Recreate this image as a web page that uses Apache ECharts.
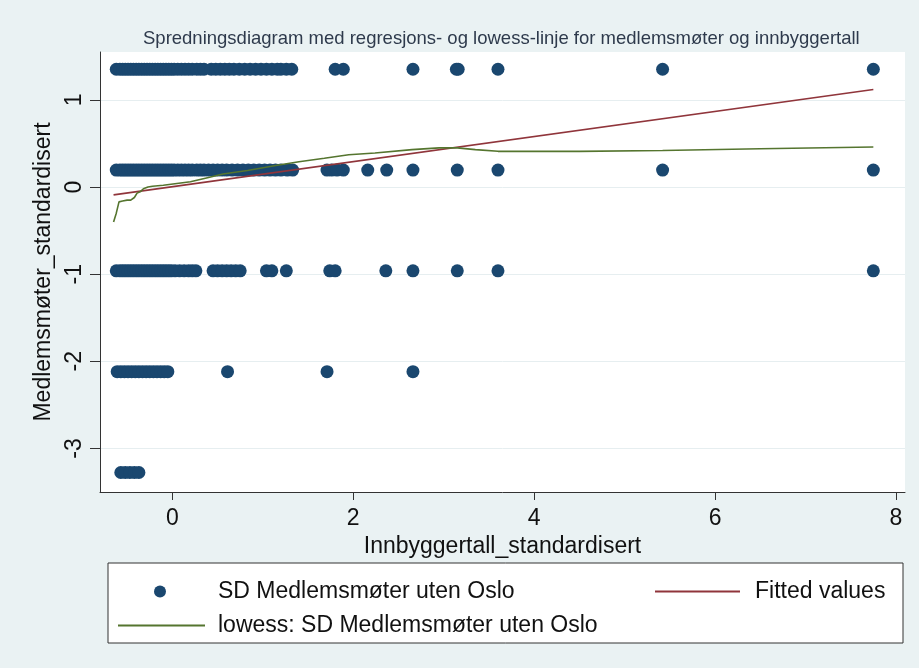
<!DOCTYPE html>
<html>
<head>
<meta charset="utf-8">
<script src="https://cdn.jsdelivr.net/npm/echarts@6/dist/echarts.min.js"></script>
<style>
html,body{margin:0;padding:0;background:#eaf2f3;}
#c{width:919px;height:668px;}
</style>
</head>
<body>
<div id="c"></div>
<script>
// Y levels of the standardised response
const levelY = [1.352, 0.195, -0.962, -2.119, -3.276];
// x values (Innbyggertall_standardisert) of points on each level
const xTop = [-0.62,-0.58,-0.55,-0.52,-0.49,-0.46,-0.43,-0.40,-0.37,-0.34,-0.31,-0.28,-0.25,-0.22,-0.19,-0.16,-0.13,-0.10,-0.07,-0.04,-0.01,0.02,0.06,0.10,0.14,0.18,0.22,0.27,0.31,0.35,0.43,0.48,0.53,0.58,0.63,0.68,0.74,0.80,0.86,0.92,0.98,1.04,1.10,1.16,1.20,1.26,1.32,1.80,1.89,2.66,3.14,3.16,3.60,5.42,7.75];
const xMid = [-0.62,-0.58,-0.55,-0.52,-0.49,-0.46,-0.43,-0.40,-0.37,-0.34,-0.31,-0.28,-0.25,-0.22,-0.19,-0.16,-0.13,-0.10,-0.07,-0.04,-0.01,0.02,0.06,0.10,0.14,0.18,0.22,0.27,0.31,0.35,0.40,0.45,0.50,0.55,0.60,0.66,0.72,0.78,0.84,0.90,0.96,1.02,1.08,1.14,1.20,1.27,1.33,1.71,1.76,1.82,1.89,2.16,2.37,2.66,3.15,3.60,5.42,7.75];
const xLow = [-0.62,-0.58,-0.55,-0.52,-0.49,-0.46,-0.43,-0.40,-0.37,-0.34,-0.31,-0.28,-0.25,-0.22,-0.19,-0.16,-0.13,-0.10,-0.07,-0.04,-0.01,0.03,0.08,0.13,0.18,0.22,0.26,0.45,0.50,0.55,0.60,0.65,0.70,0.75,1.04,1.10,1.26,1.74,1.80,2.36,2.66,3.15,3.60,7.75];
const xLower = [-0.61,-0.57,-0.53,-0.49,-0.45,-0.41,-0.37,-0.33,-0.29,-0.25,-0.21,-0.17,-0.13,-0.09,-0.05,0.61,1.71,2.66];
const xBottom = [-0.57,-0.52,-0.47,-0.42,-0.37];
// Regression (fitted values) end points
const fittedX = [-0.65, 7.75];
const fittedY = [-0.09, 1.12];
// Lowess curve
const lowessX = [-0.65,-0.62,-0.59,-0.55,-0.50,-0.46,-0.42,-0.39,-0.35,-0.32,-0.27,-0.22,-0.10,0.05,0.20,0.40,0.56,0.83,1.16,1.40,1.68,1.95,2.24,2.65,2.95,3.15,3.35,3.60,4.50,5.42,6.50,7.75];
const lowessY = [-0.40,-0.30,-0.17,-0.16,-0.15,-0.15,-0.12,-0.07,-0.05,-0.02,0.00,0.01,0.02,0.04,0.06,0.11,0.15,0.19,0.25,0.29,0.33,0.37,0.39,0.43,0.45,0.45,0.43,0.41,0.41,0.42,0.44,0.46];
// Ticks
const xTicks = [0, 2, 4, 6, 8];
const yTicks = [-3, -2, -1, 0, 1];

const nameScatter = 'SD Medlemsmøter uten Oslo';
const nameFitted = 'Fitted values';
const nameLowess = 'lowess: SD Medlemsmøter uten Oslo';

const rows = [xTop, xMid, xLow, xLower, xBottom];
const scatterData = [];
rows.forEach((xs, i) => xs.forEach(x => scatterData.push([x, levelY[i]])));
const fittedData = fittedX.map((x, i) => [x, fittedY[i]]);
const lowessData = lowessX.map((x, i) => [x, lowessY[i]]);

const FONT = 'Liberation Sans';
const FS = 23;
const chart = echarts.init(document.getElementById('c'), null, {renderer: 'canvas'});
chart.setOption({
  backgroundColor: '#eaf2f3',
  animation: false,
  textStyle: {fontFamily: FONT},
  title: {
    text: 'Spredningsdiagram med regresjons- og lowess-linje for medlemsmøter og innbyggertall',
    left: 143, top: 29, padding: 0,
    textStyle: {fontFamily: FONT, fontSize: 18.5, fontWeight: 'normal', color: '#2e3a4c'}
  },
  grid: {
    left: 100, right: 14, top: 52, bottom: 176,
    show: true, backgroundColor: '#ffffff', borderWidth: 0
  },
  xAxis: {
    type: 'value', min: -0.8, max: 8.1,
    name: 'Innbyggertall_standardisert', nameLocation: 'middle', nameGap: 33,
    nameTextStyle: {fontFamily: FONT, fontSize: FS, color: '#111'},
    axisLine: {show: true, onZero: false, lineStyle: {color: '#333', width: 1}},
    axisTick: {show: true, customValues: xTicks, length: 8, lineStyle: {color: '#333'}},
    axisLabel: {customValues: xTicks, fontFamily: FONT, fontSize: FS, color: '#111', margin: 15},
    splitLine: {show: false}
  },
  yAxis: {
    type: 'value', min: -3.5, max: 1.55,
    name: 'Medlemsmøter_standardisert', nameLocation: 'middle', nameGap: 37,
    nameTextStyle: {fontFamily: FONT, fontSize: FS, color: '#111'},
    axisLine: {show: true, onZero: false, lineStyle: {color: '#333', width: 1}},
    axisTick: {show: true, customValues: yTicks, length: 10, lineStyle: {color: '#333'}},
    axisLabel: {customValues: yTicks, rotate: 90, fontFamily: FONT, fontSize: FS, color: '#111', margin: 14},
    splitLine: {show: true, lineStyle: {color: '#e6eef0', width: 1}}
  },
  graphic: [{
    type: 'rect', z: 0,
    shape: {x: 108, y: 563, width: 795, height: 80},
    style: {fill: '#ffffff', stroke: '#333333', lineWidth: 1}
  }],
  legend: [
    {
      data: [{name: nameScatter, icon: 'circle'}],
      left: 154, top: 580, padding: 0, itemWidth: 12, itemHeight: 12, z: 10,
      textStyle: {fontFamily: FONT, fontSize: FS, color: '#111', padding: [0,0,0,47]},
      selectedMode: false
    },
    {
      data: [{name: nameFitted, icon: 'rect'}],
      left: 655, top: 580, padding: 0, itemWidth: 85, itemHeight: 2, z: 10,
      textStyle: {fontFamily: FONT, fontSize: FS, color: '#111', padding: [0,0,0,10]},
      selectedMode: false
    },
    {
      data: [{name: nameLowess, icon: 'rect'}],
      left: 118, top: 614, padding: 0, itemWidth: 87, itemHeight: 2, z: 10,
      textStyle: {fontFamily: FONT, fontSize: FS, color: '#111', padding: [0,0,0,8]},
      selectedMode: false
    }
  ],
  series: [
    {
      name: nameScatter, type: 'scatter', data: scatterData,
      symbol: 'circle', symbolSize: 13,
      itemStyle: {color: '#1a476f', opacity: 1}
    },
    {
      name: nameFitted, type: 'line', data: fittedData,
      symbol: 'none', lineStyle: {color: '#90353b', width: 1.6},
      itemStyle: {color: '#90353b'}, z: 3
    },
    {
      name: nameLowess, type: 'line', data: lowessData,
      symbol: 'none', lineStyle: {color: '#55752f', width: 1.6},
      itemStyle: {color: '#55752f'}, z: 4
    }
  ]
});
</script>
</body>
</html>
